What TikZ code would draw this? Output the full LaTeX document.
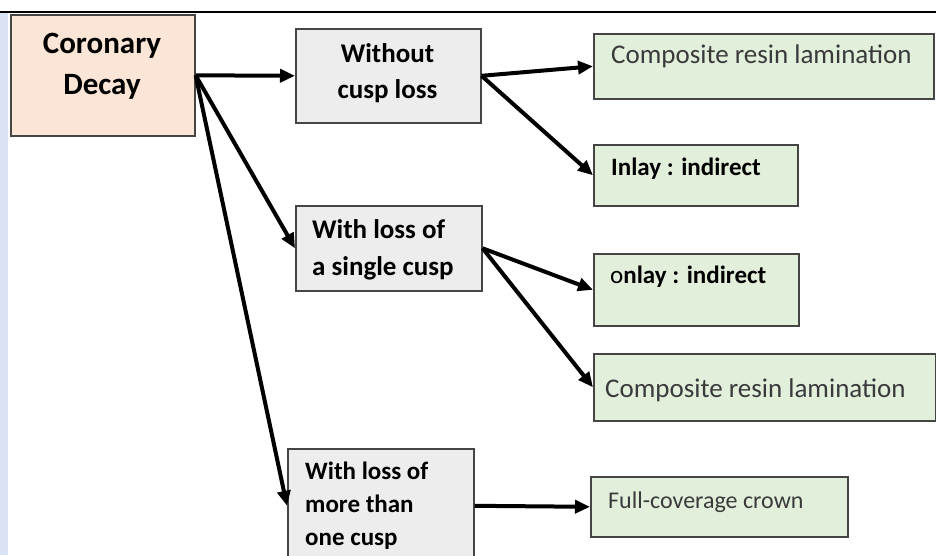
\documentclass[tikz,border=0pt]{standalone}
\usepackage{fontspec}
\setmainfont{Carlito}
\usetikzlibrary{arrows.meta}
\definecolor{peach}{HTML}{FBE5D6}
\definecolor{lightgrey}{HTML}{EDEDED}
\definecolor{palegreen}{HTML}{E2EFDA}
\definecolor{edge}{HTML}{454545}
\definecolor{sidebar}{HTML}{DAE3F3}
\definecolor{softtext}{HTML}{3A3A3A}
\begin{document}
\begin{tikzpicture}[x=1pt,y=-1pt,
  box/.style={draw=edge,line width=1.6pt,anchor=north west,inner sep=0pt},
  word/.style={inner sep=0pt},
  arr/.style={-{Triangle[length=15pt,width=13pt]},line width=4pt}]

  \useasboundingbox (0,0) rectangle (936,555);
  \clip (0,0) rectangle (936,555);

  % page frame
  \fill[sidebar] (0,13) rectangle (8,555);
  \draw[line width=2pt] (0,12) -- (936,12);

  % boxes
  \node (decay) at (10,14) [box,fill=peach,minimum width=184pt,minimum height=121pt]{};
  \node (without) at (295,28) [box,fill=lightgrey,minimum width=185pt,minimum height=94pt]{};
  \node (single) at (295,205) [box,fill=lightgrey,minimum width=186pt,minimum height=85pt]{};
  \node (more) at (287,448) [box,fill=lightgrey,minimum width=186pt,minimum height=114pt]{};

  \node (comp1) at (593,33) [box,fill=palegreen,minimum width=340pt,minimum height=65pt]{};
  \node (inlay) at (593,144) [box,fill=palegreen,minimum width=204pt,minimum height=61pt]{};
  \node (onlay) at (593,253) [box,fill=palegreen,minimum width=205pt,minimum height=72pt]{};
  \node (comp2) at (593,353) [box,fill=palegreen,minimum width=342pt,minimum height=67pt]{};
  \node (crown) at (590,476) [box,fill=palegreen,minimum width=257pt,minimum height=60pt]{};

  % texts (base = last line)
  \node (decaytxt) at (102,94) [word,anchor=base,align=center,font=\fontsize{31}{41}\selectfont\bfseries]{Coronary\\Decay};
  \node (withouttxt) at (387.5,98) [word,anchor=base,align=center,font=\fontsize{27}{36}\selectfont\bfseries]{Without\\cusp loss};
  \node (singletxt) at (312,275) [word,anchor=base west,align=left,font=\fontsize{27}{37}\selectfont\bfseries]{With loss of\\a single cusp};
  \node (moretxt) at (305,545) [word,anchor=base west,align=left,font=\fontsize{25}{33}\selectfont\bfseries]{With loss of\\more than\\one cusp};

  \node (comp1txt) at (611,63) [word,anchor=base west,text=softtext,font=\fontsize{27}{32}\selectfont]{Composite resin lamination};
  \node (inlaytxt) at (611,175) [word,anchor=base west,font=\fontsize{25}{30}\selectfont\bfseries]{Inlay : indirect};
  \node (onlaytxt) at (610,283) [word,anchor=base west,font=\fontsize{25}{30}\selectfont\bfseries]{{\mdseries o}nlay : indirect};
  \node (comp2txt) at (605,397) [word,anchor=base west,text=softtext,font=\fontsize{27}{32}\selectfont]{Composite resin lamination};
  \node (crowntxt) at (608,508) [word,anchor=base west,text=softtext,font=\fontsize{24}{29}\selectfont]{Full-coverage crown};

  % connectors
  \draw[arr] (decay.east) -- (without.west);
  \draw[arr] (decay.east) -- (single.west);
  \draw[arr] (decay.east) -- (more.west);

  \draw[arr] (without.east) -- (comp1.west);
  \draw[arr] (without.east) -- (inlay.west);

  \draw[arr] (single.east) -- (onlay.west);
  \draw[arr] (single.east) -- (comp2.west);

  \draw[arr] (more.east) -- (crown.west);

\end{tikzpicture}
\end{document}
